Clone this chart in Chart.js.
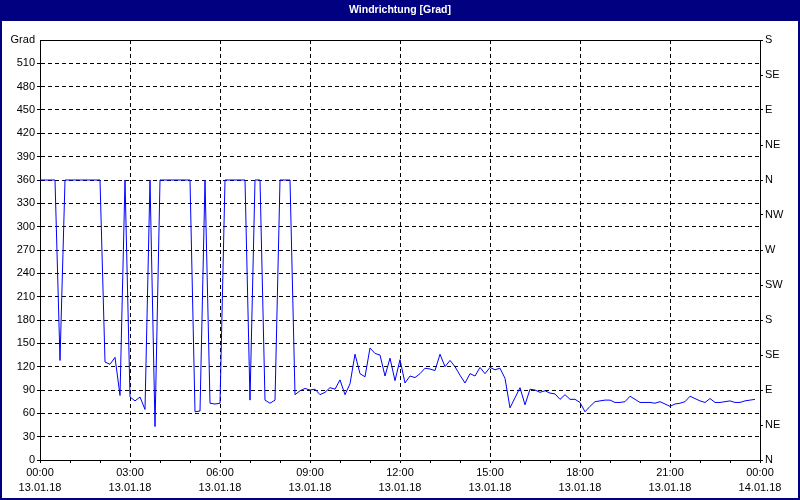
<!DOCTYPE html>
<html>
<head>
<meta charset="utf-8">
<script src="https://cdn.jsdelivr.net/npm/chart.js@4/dist/chart.umd.min.js"></script>
<style>
  html, body { margin: 0; padding: 0; background: #fff; }
  #wrap { width: 800px; height: 500px; }
</style>
</head>
<body>
<div id="wrap"><canvas id="c" width="800" height="500"></canvas></div>
<script>
// ---- data (10-minute samples starting 13.01.18 00:00) ----
const chartTitle = 'Windrichtung [Grad]';
const sampleMinutes = 10;
const windDirection = [
  360, 360, 360, 360, 128, 360, 360, 360, 360, 360, 360, 360,
  360, 126, 123, 132, 83, 360, 81, 76, 81, 65, 360, 43,
  360, 360, 360, 360, 360, 360, 360, 62, 63, 360, 73, 72,
  73, 360, 360, 360, 360, 360, 77, 360, 360, 77, 73, 77,
  360, 360, 360, 84, 89, 92, 90, 91, 84, 87, 93, 91,
  103, 84, 98, 136, 111, 107, 144, 137, 135, 108, 131, 102,
  129, 99, 108, 106, 111, 118, 117, 115, 136, 120, 128, 120,
  109, 99, 111, 108, 119, 111, 119, 116, 118, 105, 67, 80,
  93, 71, 91, 90, 87, 89, 86, 85, 78, 84, 78, 78,
  74, 62, 69, 75, 76, 77, 77, 74, 74, 75, 82, 78,
  74, 74, 74, 73, 75, 72, 69, 72, 73, 75, 82, 79,
  76, 74, 79, 74, 74, 75, 76, 74, 74, 76, 77, 78
];
const timeTickLabels = ['00:00','03:00','06:00','09:00','12:00','15:00','18:00','21:00','00:00'];
const dateTickLabels = ['13.01.18','13.01.18','13.01.18','13.01.18','13.01.18','13.01.18','13.01.18','13.01.18','14.01.18'];
const compassLabels = ['N','NE','E','SE','S','SW','W','NW','N','NE','E','SE','S'];
const yUnitLabel = 'Grad';

const points = windDirection.map((v, i) => ({ x: i * sampleMinutes, y: v }));

const FONT = "'Liberation Sans Narrow', 'Liberation Sans', Arial, sans-serif";

const framePlugin = {
  id: 'frame',
  beforeDraw(chart) {
    const { ctx, width } = chart;
    ctx.save();
    ctx.fillStyle = '#ffffff';
    ctx.fillRect(0, 0, chart.width, chart.height);
    ctx.fillStyle = '#000080';
    ctx.fillRect(0, 0, width, 21);
    ctx.restore();
  },
  afterDraw(chart) {
    const { ctx, chartArea: a, width, height } = chart;
    ctx.save();
    ctx.strokeStyle = '#000';
    ctx.lineWidth = 1;
    ctx.beginPath();
    ctx.moveTo(a.left, Math.round(a.top) + 0.5);
    ctx.lineTo(a.right + 1, Math.round(a.top) + 0.5);
    ctx.stroke();
    ctx.strokeStyle = '#000080';
    ctx.lineWidth = 2;
    ctx.strokeRect(1, 1, width - 2, height - 2);
    ctx.restore();
  }
};

new Chart(document.getElementById('c'), {
  type: 'line',
  data: {
    datasets: [{
      data: points,
      borderColor: '#0000ff',
      borderWidth: 1,
      pointRadius: 0,
      tension: 0,
      fill: false
    }]
  },
  options: {
    responsive: false,
    animation: false,
    parsing: true,
    layout: { padding: 0 },
    plugins: {
      legend: { display: false },
      tooltip: { enabled: false },
      title: {
        display: true,
        text: chartTitle,
        color: '#ffffff',
        font: { family: "'Liberation Sans', Arial, sans-serif", size: 10.5, weight: 'bold', lineHeight: 1.2 },
        padding: { top: 3.7, bottom: 23.7 }
      }
    },
    scales: {
      x: {
        type: 'linear',
        min: 0,
        max: 1440,
        afterFit: (s) => { s.height = 40; },
        border: { display: true, color: '#000', width: 1, dash: [4, 3] },
        grid: {
          color: (c) => (c.tick && c.tick.value % 180 === 0 && c.tick.value > 0 && c.tick.value < 1440) ? '#000' : 'rgba(0,0,0,0)',
          tickColor: '#000',
          tickLength: 3,
          lineWidth: 1
        },
        ticks: {
          stepSize: 60,
          autoSkip: false,
          maxRotation: 0,
          minRotation: 0,
          padding: 2.5,
          color: '#000',
          font: { family: FONT, size: 11, lineHeight: 1.36 },
          callback: (v) => {
            if (v % 180 !== 0) return '';
            const i = v / 180;
            return [timeTickLabels[i], dateTickLabels[i]];
          }
        }
      },
      y: {
        position: 'left',
        min: 0,
        max: 540,
        afterFit: (s) => { s.width = 40; },
        border: { display: true, color: '#000', width: 1, dash: [4, 3] },
        grid: {
          color: (c) => (c.tick && c.tick.value > 0 && c.tick.value < 540) ? '#000' : 'rgba(0,0,0,0)',
          tickColor: (c) => (c.tick && c.tick.value === 540) ? 'rgba(0,0,0,0)' : '#000',
          tickLength: 3,
          lineWidth: 1
        },
        ticks: {
          stepSize: 30,
          padding: 2,
          color: '#000',
          font: { family: FONT, size: 11 },
          callback: (v) => (v === 540 ? yUnitLabel : String(v))
        }
      },
      y2: {
        position: 'right',
        min: 0,
        max: 540,
        afterFit: (s) => { s.width = 40; },
        border: { display: true, color: '#000', width: 1 },
        grid: {
          drawOnChartArea: false,
          tickColor: '#000',
          tickLength: 3
        },
        ticks: {
          stepSize: 45,
          padding: 2,
          color: '#000',
          font: { family: FONT, size: 11 },
          callback: (v) => compassLabels[Math.round(v / 45)]
        }
      }
    }
  },
  plugins: [framePlugin]
});
</script>
</body>
</html>
